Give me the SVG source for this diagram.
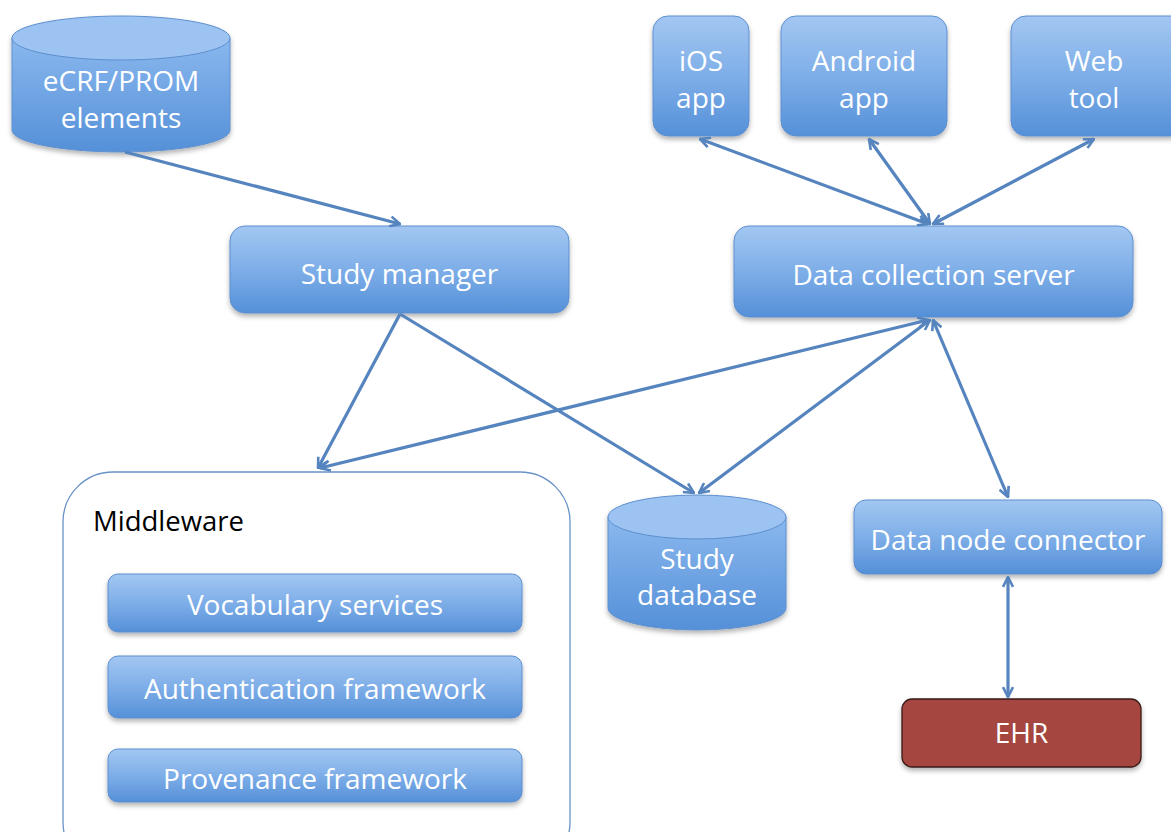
<svg xmlns="http://www.w3.org/2000/svg" width="1171" height="832" viewBox="0 0 1171 832">
<defs>
<linearGradient id="blue" x1="0" y1="0" x2="0" y2="1">
<stop offset="0" stop-color="#a3c7f2"/>
<stop offset="0.5" stop-color="#7eaee8"/>
<stop offset="1" stop-color="#5590d8"/>
</linearGradient>
<linearGradient id="cyl" x1="0" y1="0" x2="0" y2="1">
<stop offset="0" stop-color="#8ab8ee"/>
<stop offset="1" stop-color="#5590d8"/>
</linearGradient>
<filter id="sh" x="-10%" y="-10%" width="120%" height="130%">
<feDropShadow dx="0" dy="3" stdDeviation="2.5" flood-color="#000" flood-opacity="0.3"/>
</filter>
<marker id="ah" viewBox="0 0 12 12" refX="11" refY="6" markerWidth="12" markerHeight="12" markerUnits="userSpaceOnUse" orient="auto-start-reverse">
<path d="M1,1 L11,6 L1,11" fill="none" stroke="#5584be" stroke-width="2.6" stroke-linejoin="miter"/>
</marker>
</defs>
<style>
.box{fill:url(#blue);stroke:#5d8fcf;stroke-width:1;filter:url(#sh)}
.cyl{fill:url(#cyl);stroke:#5d8fcf;stroke-width:1}
.top{fill:#9cc3f1;stroke:#5d8fcf;stroke-width:1}
.t{font-family:"Open Sans","Noto Sans",sans-serif;font-size:28px;fill:#ffffff;text-anchor:middle}
.c{stroke:#5584be;stroke-width:3.2;fill:none}
</style>

<g id="ecrf">
<g filter="url(#sh)">
<path class="cyl" d="M12,38 L12,130 A109,22 0 0 0 230,130 L230,38 Z"/>
<ellipse class="top" cx="121" cy="38" rx="109" ry="22"/>
</g>
<text class="t" x="121" y="91">eCRF/PROM</text>
<text class="t" x="121" y="128">elements</text>
</g>

<g id="study-manager">
<rect class="box" x="230" y="226" width="339" height="87" rx="15"/>
<text class="t" x="399.5" y="284">Study manager</text>
</g>

<g id="ios">
<rect class="box" x="653" y="16" width="96" height="120" rx="15"/>
<text class="t" x="701" y="71">iOS</text>
<text class="t" x="701" y="108">app</text>
</g>

<g id="android">
<rect class="box" x="781" y="16" width="166" height="120" rx="15"/>
<text class="t" x="864" y="71">Android</text>
<text class="t" x="864" y="108">app</text>
</g>

<g id="web">
<rect class="box" x="1011" y="16" width="175" height="120" rx="15"/>
<text class="t" x="1094" y="71">Web</text>
<text class="t" x="1094" y="108">tool</text>
</g>

<g id="dcs">
<rect class="box" x="734" y="226" width="399" height="91" rx="15"/>
<text class="t" x="933.5" y="285">Data collection server</text>
</g>

<g id="middleware">
<rect x="63" y="472" width="507" height="400" rx="50" fill="#ffffff" stroke="#6a93c6" stroke-width="1.3"/>
<text x="93" y="531" font-family="'Open Sans','Noto Sans',sans-serif" font-size="27.5" fill="#000">Middleware</text>
<g id="vocab">
<rect class="box" x="108" y="574" width="414" height="58" rx="10"/>
<text class="t" x="315" y="615">Vocabulary services</text>
</g>
<g id="auth">
<rect class="box" x="108" y="656" width="414" height="62" rx="10"/>
<text class="t" x="315" y="699">Authentication framework</text>
</g>
<g id="prov">
<rect class="box" x="108" y="749" width="414" height="53" rx="10"/>
<text class="t" x="315" y="789">Provenance framework</text>
</g>
</g>

<g id="study-db">
<g filter="url(#sh)">
<path class="cyl" d="M608,517 L608,608 A89,22 0 0 0 786,608 L786,517 Z"/>
<ellipse class="top" cx="697" cy="517" rx="89" ry="22"/>
</g>
<text class="t" x="697" y="569">Study</text>
<text class="t" x="697" y="605">database</text>
</g>

<g id="dnc">
<rect class="box" x="854" y="500" width="308" height="74" rx="12"/>
<text class="t" x="1008" y="550">Data node connector</text>
</g>

<g id="ehr">
<rect x="902" y="699" width="239" height="68" rx="10" fill="#a5473f" stroke="#3a1a17" stroke-width="1.3" filter="url(#sh)"/>
<text class="t" x="1021.5" y="743">EHR</text>
</g>

<g id="connectors">
<line class="c" x1="125" y1="152" x2="400" y2="224" marker-end="url(#ah)"/>
<line class="c" x1="700" y1="139" x2="928" y2="224" marker-start="url(#ah)" marker-end="url(#ah)"/>
<line class="c" x1="869" y1="139" x2="930" y2="224" marker-start="url(#ah)" marker-end="url(#ah)"/>
<line class="c" x1="1094" y1="139" x2="933" y2="224" marker-start="url(#ah)" marker-end="url(#ah)"/>
<line class="c" x1="400" y1="314" x2="318" y2="468" marker-end="url(#ah)"/>
<line class="c" x1="400" y1="314" x2="694" y2="493" marker-end="url(#ah)"/>
<line class="c" x1="928" y1="320" x2="320" y2="468" marker-start="url(#ah)" marker-end="url(#ah)"/>
<line class="c" x1="930" y1="320" x2="699" y2="493" marker-start="url(#ah)" marker-end="url(#ah)"/>
<line class="c" x1="933" y1="320" x2="1008" y2="497" marker-start="url(#ah)" marker-end="url(#ah)"/>
<line class="c" x1="1008" y1="577" x2="1008" y2="697" marker-start="url(#ah)" marker-end="url(#ah)"/>
</g>
</svg>
